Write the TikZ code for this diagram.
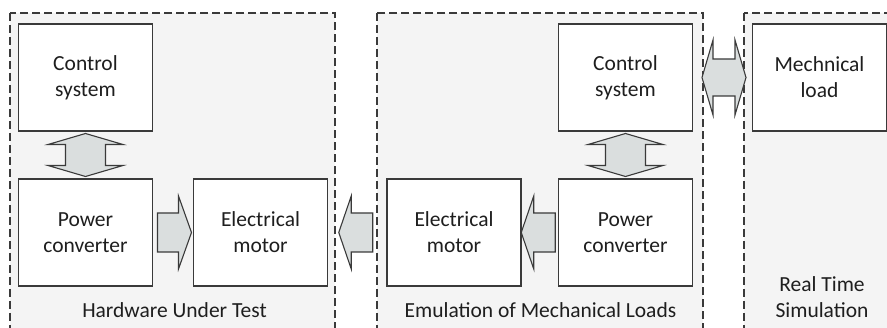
\documentclass[tikz,border=0pt]{standalone}
\usepackage{fontspec}
\setmainfont{Carlito}
\usetikzlibrary{calc}
\definecolor{boxgray}{HTML}{3A3A3A}
\definecolor{bggray}{HTML}{F4F4F4}
\definecolor{arrgray}{HTML}{DADEDE}
\definecolor{txt}{HTML}{1E1E1E}

\begin{document}
\begin{tikzpicture}[x=1pt,y=-1pt,
  blk/.style={draw=boxgray, fill=white, line width=1.7pt, minimum width=134pt, minimum height=107pt, align=center, font=\fontsize{21.5}{26}\selectfont, text=txt},
  grp/.style={draw=boxgray, fill=bggray, dash pattern=on 8pt off 4pt, line width=1.4pt},
  fat/.style={draw=boxgray, fill=arrgray, line width=1.1pt, line join=miter},
  lbl/.style={align=center, font=\fontsize{21.5}{26}\selectfont, text=txt}]
\useasboundingbox (0,0) rectangle (887,328);
\clip (0,0) rectangle (887,328);
% the three dashed areas
\draw[grp] (10,13) rectangle (335,345);
\draw[grp] (377,13) rectangle (703,345);
\draw[grp] (744,13) rectangle (900,345);
% blocks
\node[blk] (cs1) at (85.5,77.5) {Control\\system};
\node[blk] (pc1) at (85.5,232.5) {Power\\converter};
\node[blk] (em1) at (260.5,232.5) {Electrical\\motor};
\node[blk] (em2) at (454,232.5) {Electrical\\motor};
\node[blk] (pc2) at (625.5,232.5) {Power\\converter};
\node[blk] (cs2) at (625.5,77.5) {Control\\system};
\node[blk] (ml) at (819.5,77.5) {Mechnical\\load};
\node[lbl] (hut) at (174.5,310) {Hardware Under Test};
\node[lbl] (eml) at (540.5,310) {Emulation of Mechanical Loads};
\node[lbl] (rts) at (822,297) {Real Time\\Simulation};
% fat arrows
\coordinate (v1) at ($(cs1.south)!.5!(pc1.north)$);
\coordinate (v2) at ($(cs2.south)!.5!(pc2.north)$);
\coordinate (r1) at ($(pc1.east)!.5!(em1.west)$);
\coordinate (l1) at ($(em1.east)!.5!(em2.west)$);
\coordinate (l2) at ($(em2.east)!.5!(pc2.west)$);
\coordinate (h1) at ($(cs2.east)!.5!(ml.west)$);
\draw[fat] ($(v1)+(0,-21.5)$) -- ++(-37.5,11) -- ++(17.5,0) -- ++(0,21) -- ++(-17.5,0) -- ++(37.5,11)
  -- ++(37.5,-11) -- ++(-17.5,0) -- ++(0,-21) -- ++(17.5,0) -- cycle;
\draw[fat] ($(v2)+(0,-21.5)$) -- ++(-37.5,11) -- ++(17.5,0) -- ++(0,21) -- ++(-17.5,0) -- ++(37.5,11)
  -- ++(37.5,-11) -- ++(-17.5,0) -- ++(0,-21) -- ++(17.5,0) -- cycle;
\draw[fat] ($(r1)+(-15.5,-19.5)$) -- ++(21,0) -- ++(0,-17) -- ++(13,36.5) -- ++(-13,36.5) -- ++(0,-17) -- ++(-21,0) -- cycle;
\draw[fat] ($(l1)+(15.5,-19.5)$) -- ++(-21.5,0) -- ++(0,-17) -- ++(-12.5,36.5) -- ++(12.5,36.5) -- ++(0,-17) -- ++(21.5,0) -- cycle;
\draw[fat] ($(l2)+(15.5,-19.5)$) -- ++(-21.5,0) -- ++(0,-17) -- ++(-12.5,36.5) -- ++(12.5,36.5) -- ++(0,-17) -- ++(21.5,0) -- cycle;
\draw[fat] ($(h1)+(-20.5,0)$) -- ++(11,-37.5) -- ++(0,19) -- ++(22,0) -- ++(0,-19) -- ++(11,37.5)
  -- ++(-11,37.5) -- ++(0,-19) -- ++(-22,0) -- ++(0,19) -- cycle;
\end{tikzpicture}
\end{document}
